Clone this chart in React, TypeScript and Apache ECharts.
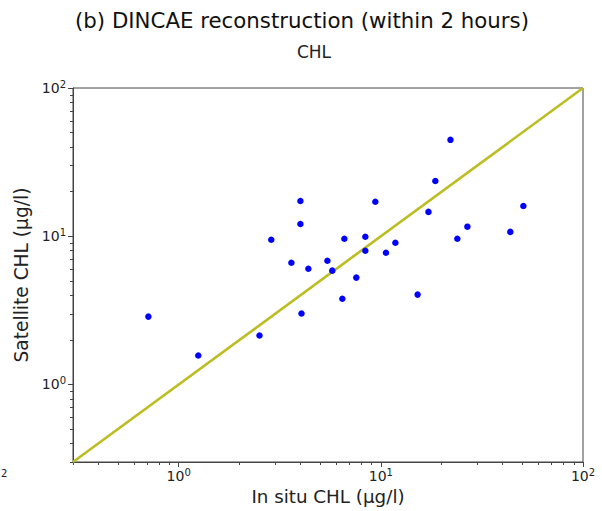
import React, { useEffect, useRef } from "react";
import * as echarts from "echarts";

const inSitu = [0.708, 1.25, 2.51, 2.87, 3.61, 4.0, 4.0, 4.05, 4.38, 5.44, 5.75, 6.45, 6.6, 7.56, 8.38, 8.38, 9.39, 10.6, 11.8, 15.2, 17.2, 18.6, 22.1, 23.9, 26.8, 43.7, 50.7];
const satellite = [2.87, 1.57, 2.14, 9.47, 6.63, 17.3, 12.1, 3.01, 6.04, 6.84, 5.86, 3.79, 9.62, 5.26, 9.92, 7.99, 17.1, 7.74, 9.04, 4.04, 14.6, 23.6, 44.7, 9.62, 11.6, 10.7, 16.0];
const axisMin = 0.3;
const axisMax = 100;
const majorTicks = [1, 10, 100];
const minorTicks = [0.3, 0.4, 0.5, 0.6, 0.7, 0.8, 0.9, 2, 3, 4, 5, 6, 7, 8, 9, 20, 30, 40, 50, 60, 70, 80, 90];
const exponents: Record<number, string> = { 1: "0", 10: "1", 100: "2" };

const FONT = "DejaVu Sans";

export default function App() {
  const ref = useRef<HTMLDivElement>(null);
  useEffect(() => {
    if (!ref.current) return;
    const chart = echarts.init(ref.current, null, { renderer: "svg" });
    const fmt = (v: number) => {
      const key = Math.round(v);
      const e = exponents[key];
      return e === undefined ? "" : `{b|10}{s|${e}}`;
    };
    const rich = {
      b: { fontFamily: FONT, fontSize: 14, color: "#222", lineHeight: 18 },
      s: { fontFamily: FONT, fontSize: 10, color: "#222", padding: [0, 0, 8, 0] },
    };
    const baseAxis = () => ({
      type: "log" as const,
      min: axisMin,
      max: axisMax,
      logBase: 10,
      splitLine: { show: false },
      axisLine: { show: true, lineStyle: { color: "#444", width: 1 } },
    });
    chart.setOption({
      animation: false,
      backgroundColor: "#fff",
      title: [
        {
          text: "(b) DINCAE reconstruction (within 2 hours)",
          left: 297,
          top: 5,
          textAlign: "center",
          textStyle: { fontFamily: FONT, fontSize: 21.3, fontWeight: "normal", color: "#111" },
        },
        {
          text: "CHL",
          left: 309,
          top: 38,
          textAlign: "center",
          textStyle: { fontFamily: FONT, fontSize: 17, fontWeight: "normal", color: "#222" },
        },
      ],
      grid: {
        left: 73,
        top: 88,
        right: 19,
        bottom: 49,
        show: true,
        borderColor: "#444",
        borderWidth: 1,
        backgroundColor: "transparent",
      },
      xAxis: [
        {
          ...baseAxis(),
          position: "bottom",
          name: "In situ CHL (μg/l)",
          nameLocation: "middle",
          nameGap: 25,
          nameTextStyle: { fontFamily: FONT, fontSize: 18.3, color: "#222" },
          axisTick: { show: true, length: 5, lineStyle: { color: "#444" }, customValues: majorTicks },
          axisLabel: {
            customValues: majorTicks,
            formatter: fmt,
            rich,
            margin: 5,
          },
        },
        {
          ...baseAxis(),
          position: "bottom",
          offset: 0,
          axisLine: { show: false },
          axisTick: { show: true, length: 3, lineStyle: { color: "#444" }, customValues: minorTicks },
          axisLabel: { show: false },
        },
      ],
      yAxis: [
        {
          ...baseAxis(),
          position: "left",
          name: "Satellite CHL (μg/l)",
          nameLocation: "middle",
          nameGap: 36,
          nameRotate: 90,
          nameTextStyle: { fontFamily: FONT, fontSize: 18.6, color: "#222" },
          axisTick: { show: true, length: 5, lineStyle: { color: "#444" }, customValues: majorTicks },
          axisLabel: {
            customValues: majorTicks,
            formatter: fmt,
            rich,
            margin: 7,
          },
        },
        {
          ...baseAxis(),
          position: "left",
          offset: 0,
          axisLine: { show: false },
          axisTick: { show: true, length: 3, lineStyle: { color: "#444" }, customValues: minorTicks },
          axisLabel: { show: false },
        },
      ],
      graphic: [
        {
          type: "text",
          left: 1,
          top: 468,
          style: { text: "2", fontFamily: FONT, fontSize: 10, fill: "#222" },
        },
      ],
      series: [
        {
          type: "line",
          data: [
            [axisMin, axisMin],
            [axisMax, axisMax],
          ],
          showSymbol: false,
          symbol: "none",
          lineStyle: { color: "#bcbd22", width: 2.6 },
          z: 2,
        },
        {
          type: "scatter",
          data: inSitu.map((x, i) => [x, satellite[i]]),
          symbol: "circle",
          symbolSize: 6.5,
          itemStyle: { color: "#0000ff", opacity: 1 },
          z: 3,
        },
      ],
    });
    return () => chart.dispose();
  }, []);
  return <div ref={ref} style={{ width: 602, height: 511, position: "absolute", left: 0, top: 0 }} />;
}
